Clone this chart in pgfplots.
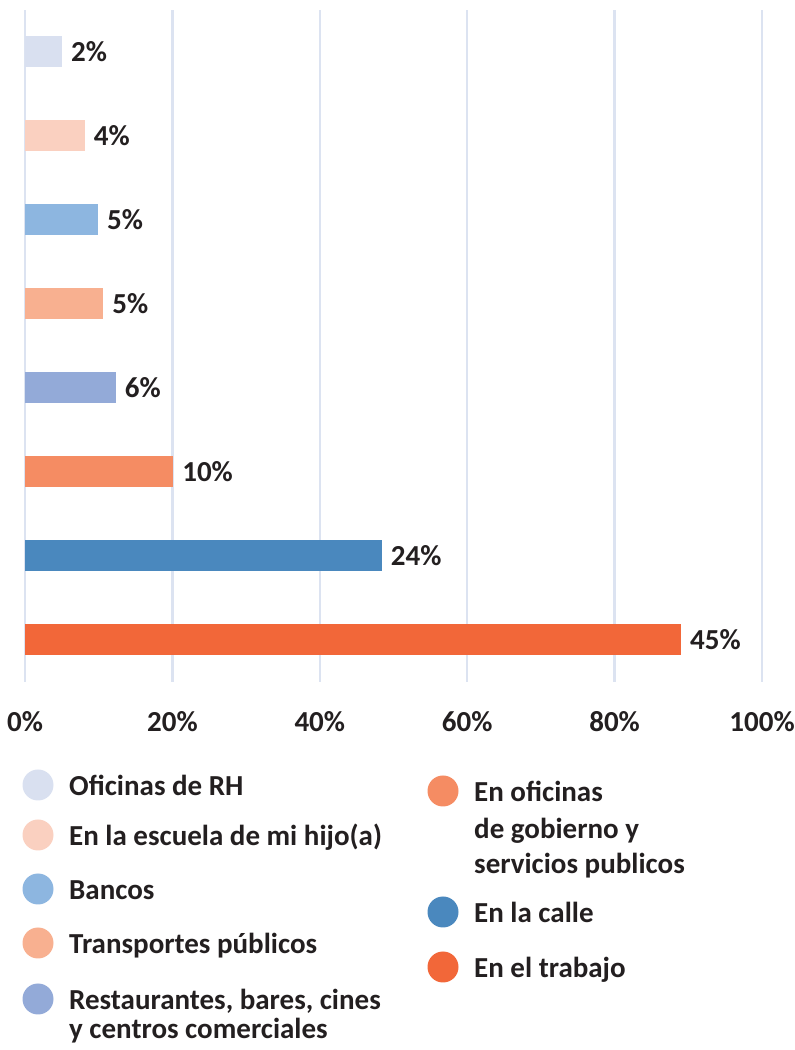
\documentclass[border=0pt]{standalone}
\usepackage{fontspec}
\setmainfont{Carlito}
\usepackage{pgfplots}
\pgfplotsset{compat=1.18}

\definecolor{txt}{HTML}{231F20}
\definecolor{gridc}{HTML}{DCE3F1}
\definecolor{cRH}{HTML}{D9E0F0}
\definecolor{cEsc}{HTML}{FAD0C0}
\definecolor{cBan}{HTML}{8DB6E0}
\definecolor{cTra}{HTML}{F8B090}
\definecolor{cRes}{HTML}{93AAD8}
\definecolor{cGob}{HTML}{F58C63}
\definecolor{cCal}{HTML}{4A88BE}
\definecolor{cTrab}{HTML}{F26739}

\begin{document}
\begin{tikzpicture}[x=1bp,y=1bp,font=\fontsize{29bp}{35bp}\selectfont\bfseries\color{txt},
    lg/.style={anchor=mid west, inner sep=0pt, yshift=-8bp}]
\useasboundingbox (0,0) rectangle (795,1050);
\begin{axis}[
    at={(25bp,368bp)}, anchor=south west,
    scale only axis,
    width=737bp, height=672bp,
    xmin=0, xmax=100,
    ymin=-0.5, ymax=7.5,
    xbar, bar width=31bp, bar shift=0pt,
    axis line style={draw=none},
    major tick length=0pt,
    xtick={0,20,40,60,80,100},
    xticklabels={0\%,20\%,40\%,60\%,80\%,100\%},
    xticklabel style={font=\fontsize{29bp}{35bp}\selectfont\bfseries, text=txt, yshift=-26bp},
    ytick=\empty,
    xmajorgrids,
    grid style={gridc, line width=2.5bp},
    clip=false,
    point meta=explicit symbolic,
    nodes near coords={\pgfplotspointmeta\%},
    nodes near coords style={anchor=west, inner sep=0pt, xshift=9bp,
        font=\fontsize{29bp}{35bp}\selectfont\bfseries, text=txt},
]
\addplot[fill=cTrab, draw=none] coordinates {(89.0,0) [45]};
\addplot[fill=cCal, draw=none] coordinates {(48.4,1) [24]};
\addplot[fill=cGob, draw=none] coordinates {(20.1,2) [10]};
\addplot[fill=cRes, draw=none] coordinates {(12.3,3) [6]};
\addplot[fill=cTra, draw=none] coordinates {(10.6,4) [5]};
\addplot[fill=cBan, draw=none] coordinates {(9.9,5) [5]};
\addplot[fill=cEsc, draw=none] coordinates {(8.1,6) [4]};
\addplot[fill=cRH, draw=none] coordinates {(5.0,7) [2]};
\end{axis}

% legend, left column
\fill[cRH]  (38,265) circle (15.5);
\fill[cEsc] (38,215) circle (15.5);
\fill[cBan] (38,161) circle (15.5);
\fill[cTra] (38,107) circle (15.5);
\fill[cRes] (38,51)  circle (15.5);
\node[lg] at (69,265) {Oficinas de RH};
\node[lg] at (69,215) {En la escuela de mi hijo(a)};
\node[lg] at (69,161) {Bancos};
\node[lg] at (69,107) {Transportes públicos};
\node[lg] at (69,51)  {Restaurantes, bares, cines};
\node[lg] at (69,22)  {y centros comerciales};

% legend, right column
\fill[cGob]  (443,259) circle (15.5);
\fill[cCal]  (443,138) circle (15.5);
\fill[cTrab] (443,83)  circle (15.5);
\node[lg] at (474,259) {En oficinas};
\node[lg] at (474,222) {de gobierno y};
\node[lg] at (474,187) {servicios publicos};
\node[lg] at (474,138) {En la calle};
\node[lg] at (474,83)  {En el trabajo};
\end{tikzpicture}
\end{document}
